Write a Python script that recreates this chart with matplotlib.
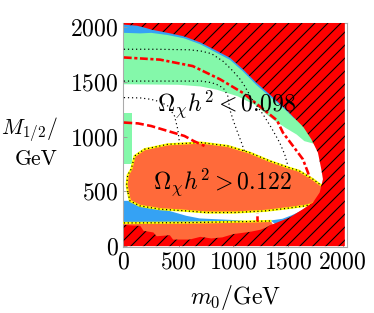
import matplotlib.pyplot as plt

plt.rcParams['font.family'] = 'serif'
plt.rcParams['font.serif'] = ['cmr10']
plt.rcParams['mathtext.fontset'] = 'cm'
plt.rcParams['axes.formatter.use_mathtext'] = True
plt.rcParams['hatch.linewidth'] = 1.0
plt.rcParams['hatch.color'] = 'black'

# colours of the regions
RED = '#ff0000'
ORANGE = '#ff6a3a'
GREEN = '#84f8aa'
BLUE = '#35a2f4'
YELLOW = '#ffff00'

# boundary of the hatched (excluded) region, top-left -> bottom, then corners
red_x = [0, 0, 120, 200, 250, 400, 550, 700, 850, 970, 1090, 1210, 1330, 1470,
         1560, 1640, 1714, 1774, 1805, 1820, 1790, 1729, 1637, 1516, 1363, 1250,
         0, 0, 2020, 2020]
red_y = [2045, 2025, 2015, 1995, 1980, 1950, 1918, 1862, 1785, 1722, 1616, 1495,
         1390, 1262, 1170, 1090, 977, 855, 703, 612, 490, 399, 338, 262, 201, 198,
         198, 0, 0, 2045]

# thin blue band along the top edge of the excluded region
blue_top_x = [0, 150, 250, 400, 550, 700, 850, 970, 1090, 1210, 1330, 1470, 1560,
              2020, 0]
blue_top_y = [1950, 1945, 1950, 1930, 1900, 1845, 1766, 1703, 1596, 1475, 1370,
              1252, 1165, 2045, 2045]

# green band (allowed relic density)
green_x = [0, 500, 700, 850, 1040, 1200, 1360, 1480, 1580, 1650, 1760, 2020, 2020, 0]
green_y = [1480, 1475, 1460, 1430, 1370, 1290, 1160, 1080, 1020, 960, 930, 930,
           2045, 2045]
green_strip_x = [0, 75, 75, 0]
green_strip_y = [750, 750, 1220, 1220]

# blue regions at the bottom
blue_low_x = [0, 55, 146, 359, 572, 694, 1014, 1100, 1100, 0]
blue_low_y = [414, 414, 368, 338, 277, 253, 238, 232, 205, 205]
blue_strip_x = [1340, 1450, 1534, 1620, 1686, 1715, 1760, 1600, 1400]
blue_strip_y = [234, 250, 282, 322, 368, 395, 390, 240, 190]

# big over-abundant region
blob_x = [37, 25, 35, 67, 98, 189, 402, 706, 950, 1150, 1333, 1516, 1600, 1729,
          1790, 1840, 1780, 1717, 1656, 1504, 1290, 1014, 755, 572, 329, 146, 55, 37]
blob_y = [493, 560, 650, 703, 824, 886, 931, 947, 916, 855, 779, 715, 690, 612,
          566, 540, 420, 383, 368, 347, 322, 307, 307, 322, 338, 368, 414, 493]

# thin over-abundant strip at the bottom
strip_top_x = [0, 600, 1000, 1340]
strip_top_y = [212, 215, 222, 230]
strip_bot_x = [1360, 1300, 1250, 1150, 1000, 900, 800, 700, 600, 450, 420, 300,
               270, 180, 150, 60, 0]
strip_bot_y = [205, 170, 150, 130, 110, 80, 70, 85, 60, 60, 100, 90, 125, 140,
               185, 190, 195]

# red dashed contours
dashdot_x = [0, 330, 630, 880, 1090, 1240, 1400, 1454, 1546, 1637, 1683, 1698]
dashdot_y = [1725, 1705, 1646, 1525, 1400, 1280, 1150, 1038, 916, 794, 673, 627]
dash_x = [0, 130, 250, 400, 554, 640, 737]
dash_y = [1130, 1122, 1098, 1053, 1007, 960, 916]
vdash_x = [1213, 1213]
vdash_y = [231, 307]

# black dotted contours
dot1_x = [0, 300, 600, 706, 800, 907, 998, 1059, 1100, 1180, 1272, 1350, 1424,
          1470, 1500]
dot1_y = [1800, 1800, 1795, 1783, 1760, 1690, 1600, 1530, 1470, 1330, 1205,
          1080, 947, 840, 733]
dot2_x = [0, 300, 600, 706, 800, 870, 919, 950, 968, 1000, 1029, 1075, 1105]
dot2_y = [1509, 1509, 1509, 1509, 1495, 1470, 1433, 1372, 1251, 1150, 1068, 947, 860]
dot3_x = [0, 150, 249, 330, 402, 463, 493, 508]
dot3_y = [1358, 1355, 1342, 1320, 1281, 1190, 1068, 947]

DPI = 78
fig = plt.figure(figsize=(374 / DPI, 313 / DPI), dpi=DPI)
ax = fig.add_axes([123 / 374, 66 / 313, 224 / 374, 224 / 313])

ax.fill(green_x, green_y, color=GREEN, lw=0, zorder=1)
ax.fill(green_strip_x, green_strip_y, color=GREEN, lw=0, zorder=1)
ax.fill(blue_top_x, blue_top_y, color=BLUE, lw=0, zorder=1.5)
ax.fill(blue_low_x, blue_low_y, color=BLUE, lw=0, zorder=1.5)
ax.fill(blue_strip_x, blue_strip_y, color=BLUE, lw=0, zorder=1.5)

ax.fill(blob_x, blob_y, facecolor=ORANGE, edgecolor=YELLOW, lw=2.0, zorder=2)
ax.plot(blob_x, blob_y, color='black', lw=1.1, ls=(0, (1, 2.2)), zorder=2.1)

ax.fill(red_x, red_y, facecolor=RED, edgecolor='black', hatch='//', lw=0, zorder=3)

ax.fill(strip_top_x + strip_bot_x, strip_top_y + strip_bot_y, color=ORANGE,
        lw=0, zorder=3.5)
ax.plot(strip_top_x, strip_top_y, color=YELLOW, lw=2.0, zorder=3.6)
ax.plot(strip_top_x, strip_top_y, color='black', lw=1.1, ls=(0, (1, 2.2)), zorder=3.7)

ax.plot(dashdot_x, dashdot_y, color=RED, lw=2.4, dashes=(3, 1, 1.2, 1), zorder=4)
ax.plot(dash_x, dash_y, color=RED, lw=2.4, dashes=(3.2, 1.3), zorder=4)
ax.plot(vdash_x, vdash_y, color=RED, lw=2.4, dashes=(2, 1), zorder=4)

for xs, ys in [(dot1_x, dot1_y), (dot2_x, dot2_y), (dot3_x, dot3_y)]:
    ax.plot(xs, ys, color='black', lw=1.1, ls=(0, (1, 2.4)), zorder=4)

ax.text(940, 1297, r'$\Omega_\chi h^2 < 0.098$', fontsize=22, ha='center',
        va='center', zorder=5)
ax.text(904, 584, r'$\Omega_\chi h^2 > 0.122$', fontsize=22, ha='center',
        va='center', zorder=5)

ax.set_xlim(-8, 2040)
ax.set_ylim(-8, 2040)
ax.set_xticks([0, 500, 1000, 1500, 2000])
ax.set_yticks([0, 500, 1000, 1500, 2000])
ax.tick_params(direction='in', length=3.5, width=0.8, color='#999999',
               labelsize=22, pad=4)
for s in ax.spines.values():
    s.set_color('#aaaaaa')
    s.set_linewidth(1.0)

fig.text(58 / 374, 1 - 142 / 313, '$M_{1/2}/$\nGeV', fontsize=20, ha='right',
         va='center', multialignment='right', linespacing=1.35)
fig.text(236 / 374, 1 - 298 / 313, '$m_0/$GeV', fontsize=22, ha='center',
         va='center')

fig.savefig('out.png', dpi=DPI)
